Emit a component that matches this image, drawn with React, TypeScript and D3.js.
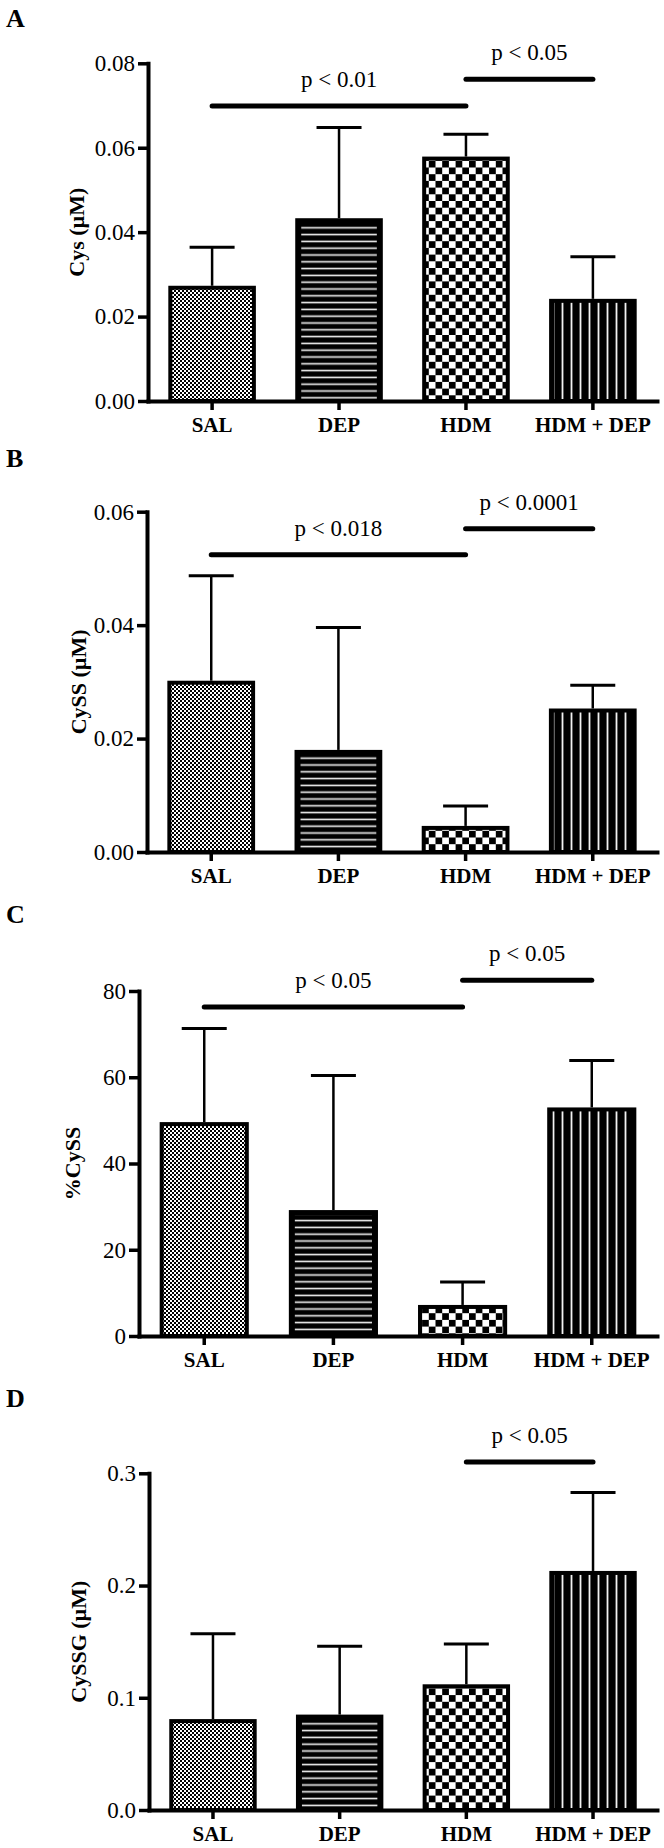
import { useEffect, useRef } from "react";
import * as d3 from "d3";

const FONT = '"Liberation Serif", "Times New Roman", serif';

const categories = ["SAL", "DEP", "HDM", "HDM + DEP"];
const barFills = ["fineCheck", "hLines", "bigCheck", "vLines"];

// A: Cys
const cysMean = [0.0273, 0.0433, 0.0579, 0.0242];
const cysSem = [0.0091, 0.0215, 0.0053, 0.01];
const cysTicks = [0, 0.02, 0.04, 0.06, 0.08];
const cysSig = [
  { from: 0, to: 2, y: 0.0699, text: "p < 0.01" },
  { from: 2, to: 3, y: 0.0762, text: "p < 0.05" },
];

// B: CySS
const cyssMean = [0.0302, 0.018, 0.0046, 0.0253];
const cyssSem = [0.0185, 0.0216, 0.0035, 0.0041];
const cyssTicks = [0, 0.02, 0.04, 0.06];
const cyssSig = [
  { from: 0, to: 2, y: 0.0524, text: "p < 0.018" },
  { from: 2, to: 3, y: 0.057, text: "p < 0.0001" },
];

// C: %CySS
const pctMean = [49.6, 29.2, 7.2, 53.0];
const pctSem = [21.7, 31.2, 5.3, 10.9];
const pctTicks = [0, 20, 40, 60, 80];
const pctSig = [
  { from: 0, to: 2, y: 76.3, text: "p < 0.05" },
  { from: 2, to: 3, y: 82.5, text: "p < 0.05" },
];

// D: CySSG
const cyssgMean = [0.081, 0.085, 0.112, 0.213];
const cyssgSem = [0.076, 0.061, 0.036, 0.07];
const cyssgTicks = [0, 0.1, 0.2, 0.3];
const cyssgSig = [{ from: 2, to: 3, y: 0.31, text: "p < 0.05" }];

const panels = [
  { letter: "A", title: "Cys (\u00b5M)", mean: cysMean, sem: cysSem, ticks: cysTicks, sig: cysSig, fmt: ".2f",
    letterY: 27, axisX: 148, y0: 401, yTop: 63.3, titleX: 76 },
  { letter: "B", title: "CySS (\u00b5M)", mean: cyssMean, sem: cyssSem, ticks: cyssTicks, sig: cyssSig, fmt: ".2f",
    letterY: 467, axisX: 147, y0: 852, yTop: 511.7, titleX: 78 },
  { letter: "C", title: "%CySS", mean: pctMean, sem: pctSem, ticks: pctTicks, sig: pctSig, fmt: "d",
    letterY: 923, axisX: 139, y0: 1336, yTop: 991, titleX: 72 },
  { letter: "D", title: "CySSG (\u00b5M)", mean: cyssgMean, sem: cyssgSem, ticks: cyssgTicks, sig: cyssgSig, fmt: ".1f",
    letterY: 1407, axisX: 149, y0: 1810, yTop: 1473.3, titleX: 78 },
];

type PanelCfg = (typeof panels)[number];

function Panel({ cfg }: { cfg: PanelCfg }) {
  const ref = useRef<SVGGElement>(null);

  useEffect(() => {
    const g = d3.select(ref.current);
    g.selectAll("*").remove();

    const x = d3.scaleBand().domain(categories).range([cfg.axisX, 657]).paddingInner(0.31).paddingOuter(0.16);
    const y = d3.scaleLinear().domain([0, cfg.ticks[cfg.ticks.length - 1]]).range([cfg.y0, cfg.yTop]);
    const bw = x.bandwidth();

    // error bars (upper only)
    cfg.mean.forEach((m, i) => {
      const cx = x(categories[i])! + bw / 2;
      const top = y(m + cfg.sem[i]);
      g.append("line").attr("x1", cx).attr("x2", cx).attr("y1", y(m)).attr("y2", top)
        .attr("stroke", "#000").attr("stroke-width", 2.5);
      g.append("line").attr("x1", cx - 22.5).attr("x2", cx + 22.5).attr("y1", top).attr("y2", top)
        .attr("stroke", "#000").attr("stroke-width", 3);
    });

    // bars
    cfg.mean.forEach((m, i) => {
      const bx = x(categories[i])!;
      const fill = barFills[i];
      const lined = fill === "hLines" || fill === "vLines";
      g.append("rect").attr("x", bx + 2).attr("y", y(m) + 2).attr("width", bw - 4).attr("height", cfg.y0 - y(m) - 2)
        .attr("fill", lined ? "#000" : `url(#${fill})`).attr("stroke", "#000").attr("stroke-width", 4);
      if (lined) {
        const ix = fill === "hLines" ? 6 : 5;
        const iy = fill === "hLines" ? 5 : 4;
        const h = cfg.y0 - y(m) - iy - 2;
        if (h > 0)
          g.append("rect").attr("x", bx + ix).attr("y", y(m) + iy).attr("width", bw - 2 * ix).attr("height", h)
            .attr("fill", `url(#${fill})`);
      }
    });

    // y axis
    const yAxis = g.append("g").attr("transform", `translate(${cfg.axisX},0)`)
      .call(d3.axisLeft(y).tickValues(cfg.ticks).tickSize(10).tickSizeOuter(0).tickPadding(3)
        .tickFormat((d) => d3.format(cfg.fmt)(d as number)));
    yAxis.select(".domain").attr("stroke-width", 4).attr("stroke-linecap", "square");
    yAxis.selectAll(".tick line").attr("stroke-width", 3.5);
    yAxis.selectAll("text").attr("font-family", FONT).attr("font-size", 23).attr("fill", "#000");

    // x axis
    const xAxis = g.append("g").attr("transform", `translate(0,${cfg.y0})`)
      .call(d3.axisBottom(x).tickSize(9).tickSizeOuter(0).tickPadding(7));
    xAxis.select(".domain").attr("stroke-width", 4).attr("stroke-linecap", "square");
    xAxis.selectAll(".tick line").attr("stroke-width", 3.5);
    xAxis.selectAll("text").attr("font-family", FONT).attr("font-size", 21).attr("font-weight", "bold").attr("fill", "#000");

    // significance bars
    cfg.sig.forEach((s) => {
      const x1 = x(categories[s.from])! + bw / 2;
      const x2 = x(categories[s.to])! + bw / 2;
      const sy = y(s.y);
      g.append("line").attr("x1", x1).attr("x2", x2).attr("y1", sy).attr("y2", sy)
        .attr("stroke", "#000").attr("stroke-width", 5).attr("stroke-linecap", "round");
      g.append("text").attr("x", (x1 + x2) / 2).attr("y", sy - 19).attr("text-anchor", "middle")
        .attr("font-family", FONT).attr("font-size", 23).text(s.text);
    });

    // y title
    const midY = (cfg.y0 + cfg.yTop) / 2;
    g.append("text").attr("transform", `translate(${cfg.titleX},${midY}) rotate(-90)`)
      .attr("text-anchor", "middle").attr("dominant-baseline", "central")
      .attr("font-family", FONT).attr("font-size", 22).attr("font-weight", "bold").text(cfg.title);

    // panel letter
    g.append("text").attr("x", 6).attr("y", cfg.letterY)
      .attr("font-family", FONT).attr("font-size", 26).attr("font-weight", "bold").text(cfg.letter);
  }, [cfg]);

  return <g ref={ref} />;
}

export default function App() {
  return (
    <svg width={664} height={1848} style={{ position: "absolute", left: 0, top: 0, background: "#fff" }}>
      <defs>
        <pattern id="fineCheck" width={4} height={4} patternUnits="userSpaceOnUse">
          <rect width={4} height={4} fill="#fff" />
          <rect width={2} height={2} fill="#000" />
          <rect x={2} y={2} width={2} height={2} fill="#000" />
        </pattern>
        <pattern id="bigCheck" width={13.4} height={13.4} patternUnits="userSpaceOnUse">
          <rect width={13.4} height={13.4} fill="#fff" />
          <rect width={6.7} height={6.7} fill="#000" />
          <rect x={6.7} y={6.7} width={6.7} height={6.7} fill="#000" />
        </pattern>
        <pattern id="hLines" width={10} height={6.8} patternUnits="userSpaceOnUse">
          <rect width={10} height={6.8} fill="#000" />
          <rect y={2.6} width={10} height={1.6} fill="#f2f2f2" />
        </pattern>
        <pattern id="vLines" width={9} height={10} patternUnits="userSpaceOnUse">
          <rect width={9} height={10} fill="#000" />
          <rect x={3.6} width={1.8} height={10} fill="#f2f2f2" />
        </pattern>
      </defs>
      <rect width={664} height={1848} fill="#fff" />
      {panels.map((p) => (
        <Panel key={p.letter} cfg={p} />
      ))}
    </svg>
  );
}
